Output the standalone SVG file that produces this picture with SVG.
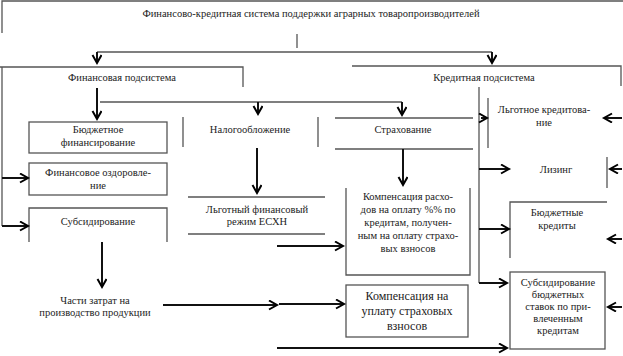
<svg xmlns="http://www.w3.org/2000/svg" width="623" height="356" viewBox="0 0 623 356" font-family="Times New Roman, Liberation Serif, DejaVu Serif, serif">
<defs>
<style>
.bx{fill:none;stroke:#555;stroke-width:1.3}
.cn{fill:none;stroke:#111;stroke-width:2}
.th{fill:none;stroke:#555;stroke-width:1.3}
.ar{marker-end:url(#ah)}
text{font-family:'Times New Roman','Liberation Serif','DejaVu Serif',serif;font-size:10.5px;fill:#222;text-anchor:middle}
.big{font-size:12px}
</style>
<marker id="ah" markerUnits="userSpaceOnUse" markerWidth="12" markerHeight="12" refX="9" refY="5" orient="auto">
<path d="M1,0.5 L9,5 L1,9.5" fill="none" stroke="#000" stroke-width="2"/>
</marker>
</defs>
<rect width="623" height="356" fill="#fff"/>
<g id="title">
<path class="bx" d="M2,33 V1 H623"/>
<text x="311" y="17">Финансово-кредитная система поддержки аграрных товаропроизводителей</text>
</g>
<g id="fin">
<path class="bx" d="M0,67 H243 V87"/>
<text x="122" y="81">Финансовая подсистема</text>
</g>
<g id="cred">
<path class="bx" d="M352,66 H621 V86"/>
<text x="484" y="81">Кредитная подсистема</text>
</g>
<g id="budg">
<rect class="bx" x="29" y="122" width="138" height="31"/>
<text x="98" y="133">Бюджетное</text>
<text x="98" y="146">финансирование</text>
</g>
<g id="ozd">
<rect class="bx" x="29" y="163" width="138" height="32"/>
<text x="98" y="176">Финансовое оздоровле-</text>
<text x="98" y="189">ние</text>
</g>
<g id="subs">
<path class="bx" d="M29,242 V208 H167 V242"/>
<text x="98" y="225">Субсидирование</text>
</g>
<g id="chasti">
<text x="95" y="304">Части затрат на</text>
<text x="95" y="316">производство продукции</text>
</g>
<g id="nalog">
<path class="bx" d="M183,117 V147 M318,117 V147"/>
<text x="250" y="133">Налогообложение</text>
</g>
<g id="strah">
<path class="bx" d="M335,118 H473 M335,149 H473"/>
<text x="403" y="133">Страхование</text>
</g>
<g id="esxn">
<path class="bx" d="M188,197 H325 M188,234 H325"/>
<text x="257" y="213">Льготный финансовый</text>
<text x="257" y="225">режим ЕСХН</text>
</g>
<g id="komp1">
<path class="bx" d="M346,188 V275 H470 V188"/>
<text x="408" y="200">Компенсация расхо-</text>
<text x="408" y="213">дов  на оплату %% по</text>
<text x="408" y="226">кредитам,  получен-</text>
<text x="408" y="239">ным на оплату страхо-</text>
<text x="408" y="252">вых взносов</text>
</g>
<g id="komp2">
<rect class="bx" x="346" y="285" width="122" height="52"/>
<text class="big" x="407" y="300">Компенсация на</text>
<text class="big" x="407" y="315">уплату страховых</text>
<text class="big" x="407" y="330">взносов</text>
</g>
<g id="lgot">
<path class="bx" d="M488,98 V148"/>
<text x="544" y="113">Льготное кредитова-</text>
<text x="544" y="126">ние</text>
</g>
<g id="lizing">
<path class="bx" d="M607,157 V188"/>
<text x="556" y="173">Лизинг</text>
</g>
<g id="bkred">
<path class="bx" d="M510,258 V202 H607"/>
<text x="557" y="216">Бюджетные</text>
<text x="557" y="229">кредиты</text>
</g>
<g id="subsb">
<rect class="bx" x="510" y="272" width="95" height="77"/>
<text x="558" y="286">Субсидирование</text>
<text x="558" y="298">бюджетных</text>
<text x="558" y="310">ставок по при-</text>
<text x="558" y="322">влеченным</text>
<text x="558" y="334">кредитам</text>
</g>
<g id="connectors">
<path class="th" d="M297,34 V48"/>
<path class="th" d="M97,52 H492"/>
<path class="cn ar" d="M97,52 V63"/>
<path class="cn ar" d="M492,52 V63"/>
<path class="cn ar" d="M97,88 V119"/>
<path class="th" d="M100,102 H402"/>
<path class="cn ar" d="M258,102 V114"/>
<path class="cn ar" d="M402,102 V115"/>
<path class="th" d="M2,67 V226"/>
<path class="cn ar" d="M2,178 H28"/>
<path class="cn ar" d="M2,226 H28"/>
<path class="cn ar" d="M102,242 V287"/>
<path class="cn ar" d="M257,148 V193"/>
<path class="cn ar" d="M403,149 V185"/>
<path class="cn ar" d="M163,305 H277"/>
<path class="cn ar" d="M279,304 H344"/>
<path class="cn ar" d="M277,246 H343"/>
<path class="cn ar" d="M277,348 H507"/>
<path class="th" d="M479,87 V283"/>
<path class="cn ar" d="M479,283 H507"/>
<path class="cn ar" d="M481,118 H487"/>
<path class="cn ar" d="M479,169 H509"/>
<path class="cn ar" d="M479,229 H509"/>
<path class="cn ar" d="M622,118 H604"/>
<path class="cn ar" d="M622,169 H610"/>
<path class="cn ar" d="M622,239 H608"/>
<path class="cn ar" d="M622,307 H608"/>
</g>
</svg>
